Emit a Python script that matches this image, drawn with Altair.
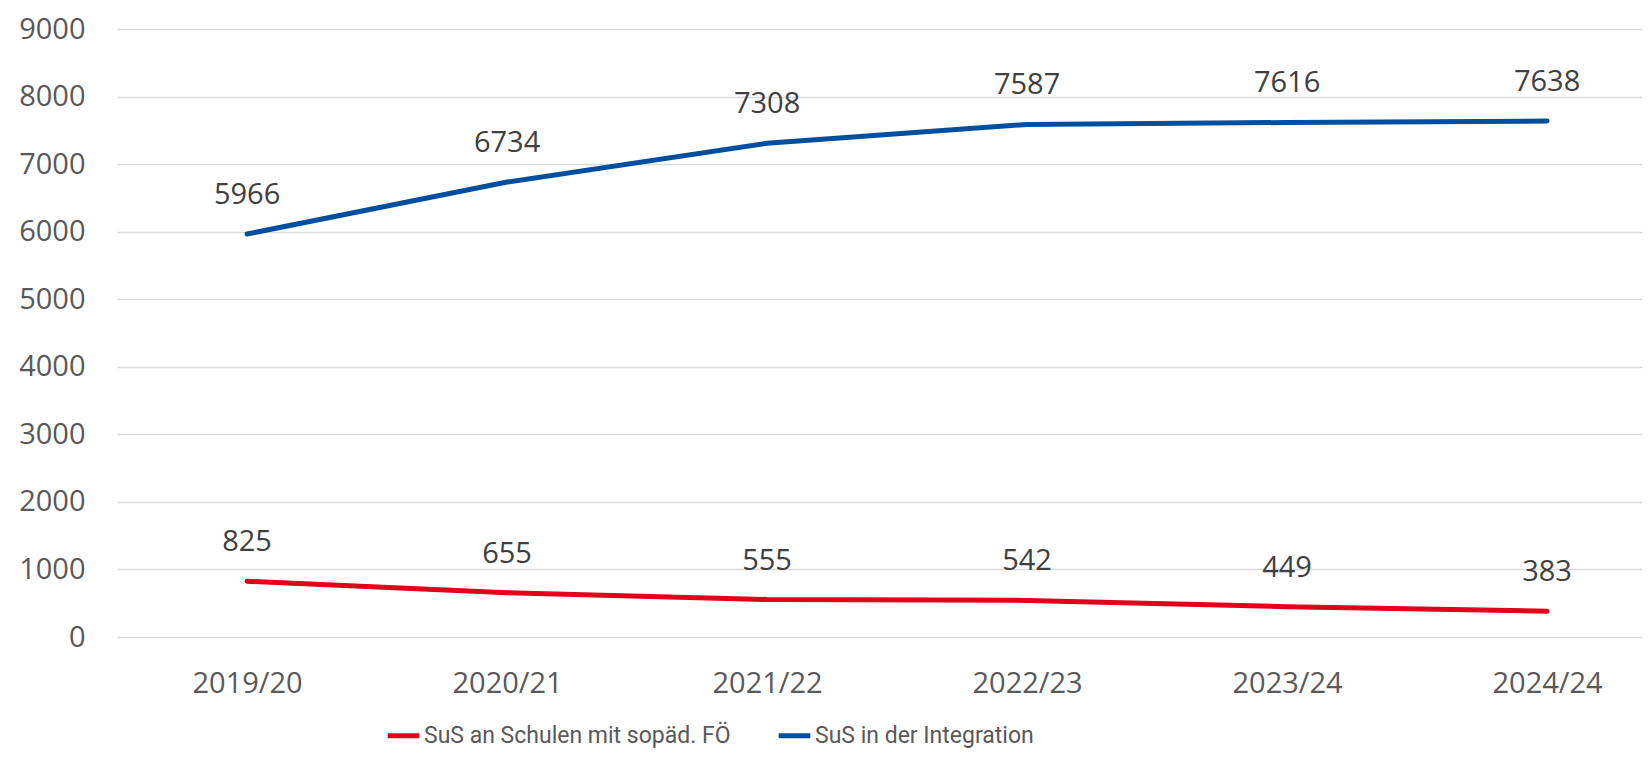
import altair as alt
import pandas as pd

years = ["2019/20", "2020/21", "2021/22", "2022/23", "2023/24", "2024/24"]
series_names = ["SuS an Schulen mit sopäd. FÖ", "SuS in der Integration"]
foe_values = [825, 655, 555, 542, 449, 383]
integration_values = [5966, 6734, 7308, 7587, 7616, 7638]
colors = ["#E2001A", "#004F9F"]
y_ticks = [0, 1000, 2000, 3000, 4000, 5000, 6000, 7000, 8000, 9000]

rows = []
for y, v in zip(years, foe_values):
    rows.append({"Jahr": y, "Serie": series_names[0], "Wert": v})
for y, v in zip(years, integration_values):
    rows.append({"Jahr": y, "Serie": series_names[1], "Wert": v})
df = pd.DataFrame(rows)

FONT = "Open Sans"

x_enc = alt.X("Jahr:O", sort=years, title=None,
              scale=alt.Scale(type="point", padding=0.4327, align=0.578),
              axis=alt.Axis(labelAngle=0, labelFontSize=29, labelColor="#595959",
                            labelFont=FONT, labelPadding=32, ticks=False,
                            domain=False, grid=False))
y_enc = alt.Y("Wert:Q", title=None,
              scale=alt.Scale(domain=[0, 9000], nice=False),
              axis=alt.Axis(values=y_ticks, format="d", labelFontSize=29,
                            labelColor="#595959",
                            labelFont=FONT, labelPadding=32, ticks=False,
                            domain=False, gridColor="#d9d9d9", gridWidth=1.5))

color_enc = alt.Color("Serie:N",
                      scale=alt.Scale(domain=series_names, range=colors),
                      legend=alt.Legend(title=None, orient="none", direction="horizontal",
                                        legendX=268, legendY=688,
                                        symbolType="stroke", symbolStrokeWidth=5,
                                        symbolSize=1000,
                                        labelFont="Roboto",
                                        labelFontSize=23, labelColor="#595959",
                                        labelLimit=600,
                                        columnPadding=37, labelOffset=2, symbolOffset=0))

lines = alt.Chart(df).mark_line(strokeWidth=5, strokeCap="round").encode(
    x=x_enc, y=y_enc, color=color_enc)

labels = alt.Chart(df).mark_text(dy=-39, fontSize=29, font=FONT, color="#404040").encode(
    x=alt.X("Jahr:O", sort=years), y="Wert:Q", text="Wert:Q")

chart = alt.layer(lines, labels).properties(
    width=1525, height=608,
    autosize=alt.AutoSizeParams(type="none"),
    padding={"left": 109, "top": 21, "right": 0, "bottom": 115},
).configure_view(stroke=None)

chart.save("out.html", embed_options={"renderer": "svg", "actions": False})
